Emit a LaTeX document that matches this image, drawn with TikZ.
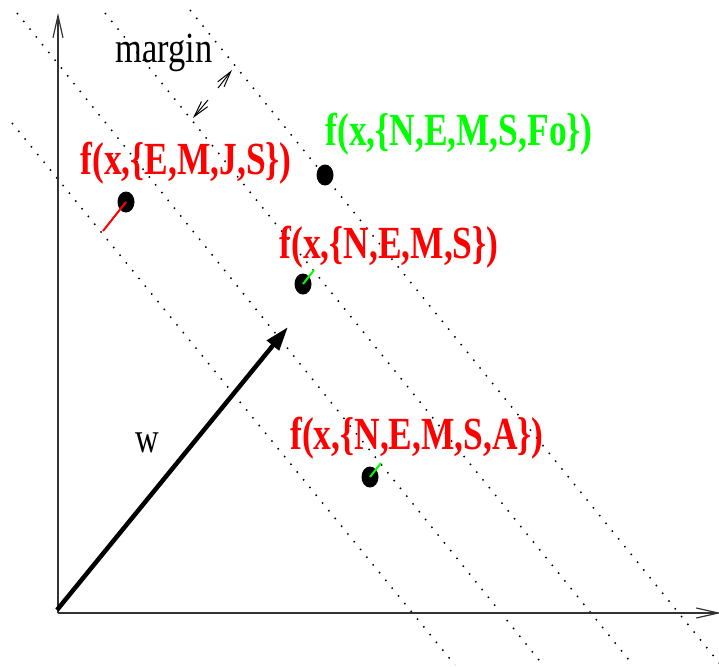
\documentclass[tikz,border=0pt]{standalone}
\usepackage{fontspec}
\usepackage{graphicx}
\setmainfont{Liberation Serif}
\usetikzlibrary{arrows.meta,shapes.geometric}
\definecolor{xred}{RGB}{255,0,0}
\definecolor{xgreen}{RGB}{0,255,0}
\begin{document}
\begin{tikzpicture}[x=1pt,y=-1pt,
  lbl/.style={font=\fontsize{46}{50}\selectfont\bfseries, inner sep=0pt},
  txt/.style={font=\fontsize{43}{47}\selectfont, inner sep=0pt},
  dot/.style={ellipse, fill=black, minimum width=17pt, minimum height=21pt, inner sep=0pt},
  dotline/.style={black, line width=1.5pt, dash pattern=on 1.5pt off 8.5pt},
  axis/.style={black!80, line width=1.8pt, -{Straight Barb[length=22pt,width=10pt,line width=1.2pt]}},
  marrow/.style={black, line width=1pt, -{Straight Barb[length=16pt,width=8pt,line width=1pt]}},
  vecw/.style={black, line width=4.5pt, -{Triangle[length=24pt,width=15pt]}},
  conn/.style={line width=2pt}]
\useasboundingbox (0,0) rectangle (719,666);
% dotted lines
\coordinate (a1) at (17,13);  \coordinate (a2) at (543,665);
\coordinate (b1) at (12,123); \coordinate (b2) at (455,665);
\coordinate (c1) at (105,13); \coordinate (c2) at (633,665);
\coordinate (e1) at (190,10); \coordinate (e2) at (720,664);
\draw[dotline] (a1) -- (a2);
\draw[dotline] (b1) -- (b2);
\draw[dotline] (c1) -- (c2);
\draw[dotline] (e1) -- (e2);
% axes
\coordinate (O) at (58,613);
\coordinate (ytop) at (58,13);
\coordinate (xend) at (721,613);
\draw[axis] (O) -- (ytop);
\draw[axis] (O) -- (xend);
% w vector
\coordinate (w0) at (57,610);
\coordinate (w1) at (288,327);
\draw[vecw] (w0) -- (w1);
\node[txt] (wl) at (147,443) {\scalebox{0.76}[1]{w}};
% margin
\node[txt] (ml) at (164,53) {\scalebox{0.8}[1]{margin}};
\coordinate (mu0) at (218,88); \coordinate (mu1) at (232,70);
\coordinate (ml0) at (208,100); \coordinate (ml1) at (193,118);
\draw[marrow] (mu0) -- (mu1);
\draw[marrow] (ml0) -- (ml1);
% points
\node[dot] (p1) at (126,202) {};
\node[dot] (p2) at (325,175) {};
\node[dot] (p3) at (303,284) {};
\node[dot] (p4) at (370,477) {};
\coordinate (q1) at (103,231);
\coordinate (q3) at (314,270);
\coordinate (q4) at (381,463);
\draw[conn, xred] (p1.center) -- (q1);
\draw[conn, xgreen] (p3.center) -- (q3);
\draw[conn, xgreen] (p4.center) -- (q4);
% labels
\node[lbl, text=xred] (l1) at (186,163) {\scalebox{0.77}[1]{f(x,\{E,M,J,S\})}};
\node[lbl, text=xgreen] (l2) at (459,134) {\scalebox{0.77}[1]{f(x,\{N,E,M,S,Fo\})}};
\node[lbl, text=xred] (l3) at (389,247) {\scalebox{0.77}[1]{f(x,\{N,E,M,S\})}};
\node[lbl, text=xred] (l4) at (417,438) {\scalebox{0.77}[1]{f(x,\{N,E,M,S,A\})}};
\end{tikzpicture}
\end{document}
